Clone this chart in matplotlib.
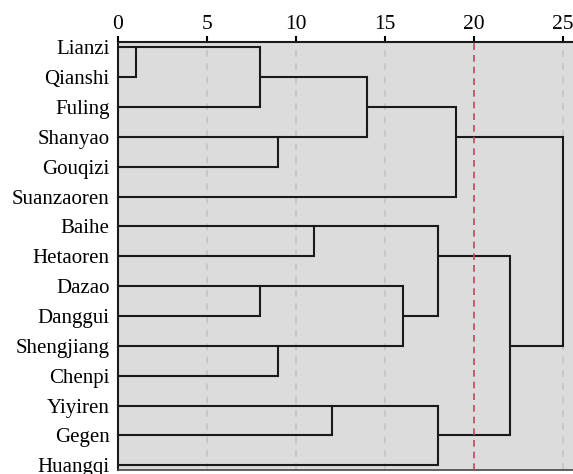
import matplotlib.pyplot as plt

# Leaves, top to bottom
leaves = ['Lianzi', 'Qianshi', 'Fuling', 'Shanyao', 'Gouqizi', 'Suanzaoren',
          'Baihe', 'Hetaoren', 'Dazao', 'Danggui', 'Shengjiang', 'Chenpi',
          'Yiyiren', 'Gegen', 'Huangqi']

# Merges: (left child, right child, height); children are leaf names or merge indices
merges = [
    ('Lianzi', 'Qianshi', 1),      # 0
    (0, 'Fuling', 8),              # 1
    ('Shanyao', 'Gouqizi', 9),     # 2
    (1, 2, 14),                    # 3
    (3, 'Suanzaoren', 19),         # 4
    ('Baihe', 'Hetaoren', 11),     # 5
    ('Dazao', 'Danggui', 8),       # 6
    ('Shengjiang', 'Chenpi', 9),   # 7
    (6, 7, 16),                    # 8
    (5, 8, 18),                    # 9
    ('Yiyiren', 'Gegen', 12),      # 10
    (10, 'Huangqi', 18),           # 11
    (9, 11, 22),                   # 12
    (4, 12, 25),                   # 13
]

cut_level = 20
xticks = [0, 5, 10, 15, 20, 25]

plt.rcParams['font.family'] = 'Liberation Serif'

fig = plt.figure(figsize=(5.73, 4.74), dpi=100)
ax = fig.add_axes([0.206, 0.009, 0.80, 0.902])
ax.set_facecolor('#dcdcdc')

pos = {name: (i, 0.0) for i, name in enumerate(leaves)}
lc = '#1a1a1a'
lw = 1.5
for k, (a, b, h) in enumerate(merges):
    ya, xa = pos[a]
    yb, xb = pos[b]
    ax.plot([xa, h], [ya, ya], color=lc, lw=lw, solid_capstyle='butt', zorder=3)
    ax.plot([xb, h], [yb, yb], color=lc, lw=lw, solid_capstyle='butt', zorder=3)
    ax.plot([h, h], [ya, yb], color=lc, lw=lw, zorder=3)
    pos[k] = ((ya + yb) // 2, h)

for x in xticks:
    if x == cut_level:
        continue
    ax.axvline(x, color='#c4c4c4', lw=1.2, ls=(0, (4, 4)), zorder=1)
ax.axvline(cut_level, color='#c8405e', lw=1.2, ls=(0, (4, 3)), zorder=4)

ax.set_xlim(0, 25.75)
ax.set_ylim(14.15, -0.17)
ax.xaxis.tick_top()
ax.set_xticks(xticks)
ax.set_yticks(range(len(leaves)))
ax.set_yticklabels(leaves)
ax.tick_params(axis='x', length=4, width=1.5, pad=2, labelsize=15.5)
ax.tick_params(axis='y', length=0, pad=6, labelsize=15)
ax.spines['right'].set_visible(False)
for s in ['top', 'left']:
    ax.spines[s].set_linewidth(1.5)
    ax.spines[s].set_color('#1a1a1a')
ax.spines['bottom'].set_linewidth(1.2)
ax.spines['bottom'].set_color('#444444')

fig.savefig('out.png', dpi=100)
